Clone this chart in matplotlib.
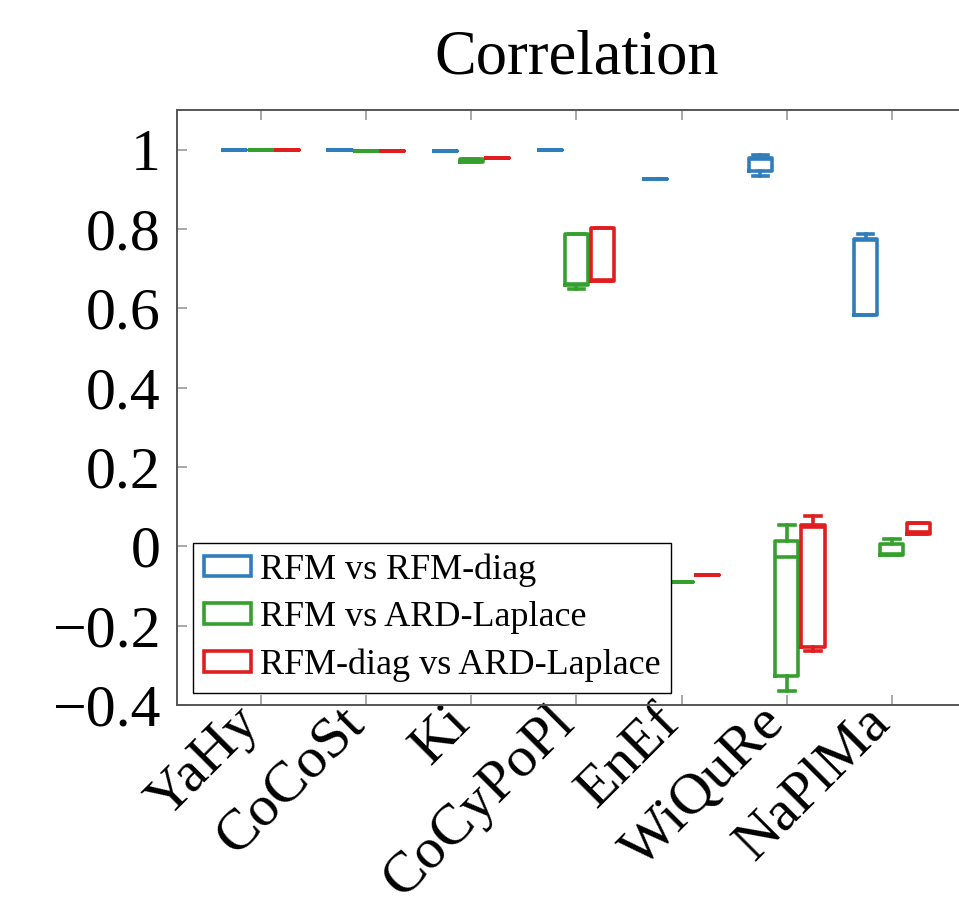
"""Correlation box plot: RFM vs RFM-diag vs ARD-Laplace per dataset."""

import matplotlib
matplotlib.use("Agg")
import matplotlib.pyplot as plt
from matplotlib.patches import Patch
from matplotlib.transforms import ScaledTranslation
import numpy as np

plt.rcParams["font.family"] = ["Liberation Serif", "DejaVu Serif"]

BLUE = "#2f7dbb"
GREEN = "#35a02e"
RED = "#e01d1f"

datasets = ["YaHy", "CoCoSt", "Ki", "CoCyPoPl", "EnEf", "WiQuRe", "NaPlMa"]
series_labels = ["RFM vs RFM-diag", "RFM vs ARD-Laplace", "RFM-diag vs ARD-Laplace"]

# five-number summaries, one list per dataset order above
blue_lo = [1.000, 1.000, 0.997, 0.999, 0.925, 0.934, 0.584]
blue_q1 = [1.000, 1.000, 0.997, 0.999, 0.925, 0.945, 0.584]
blue_med = [1.000, 1.000, 0.997, 0.999, 0.925, 0.976, 0.773]
blue_q3 = [1.000, 1.000, 0.997, 0.999, 0.925, 0.978, 0.775]
blue_hi = [1.000, 1.000, 0.997, 0.999, 0.925, 0.987, 0.788]

green_lo = [1.000, 0.997, 0.969, 0.649, -0.090, -0.364, -0.023]
green_q1 = [1.000, 0.997, 0.969, 0.660, -0.090, -0.327, -0.023]
green_med = [1.000, 0.997, 0.972, 0.662, -0.090, -0.028, -0.020]
green_q3 = [1.000, 0.997, 0.976, 0.788, -0.090, 0.014, 0.007]
green_hi = [1.000, 0.997, 0.976, 0.788, -0.090, 0.055, 0.019]

red_lo = [1.000, 0.997, 0.978, 0.670, -0.072, -0.264, 0.032]
red_q1 = [1.000, 0.997, 0.978, 0.670, -0.072, -0.254, 0.032]
red_med = [1.000, 0.997, 0.978, 0.672, -0.072, 0.050, 0.035]
red_q3 = [1.000, 0.997, 0.978, 0.803, -0.072, 0.055, 0.059]
red_hi = [1.000, 0.997, 0.978, 0.803, -0.072, 0.076, 0.059]

yticks = [-0.4, -0.2, 0, 0.2, 0.4, 0.6, 0.8, 1]
ytick_labels = ["\u22120.4", "\u22120.2", "0", "0.2", "0.4", "0.6", "0.8", "1"]


def make_stats(lo, q1, med, q3, hi):
    return [dict(whislo=a, q1=b, med=c, q3=d, whishi=e, fliers=[])
            for a, b, c, d, e in zip(lo, q1, med, q3, hi)]


series = [
    (make_stats(blue_lo, blue_q1, blue_med, blue_q3, blue_hi), BLUE, -0.25),
    (make_stats(green_lo, green_q1, green_med, green_q3, green_hi), GREEN, 0.0),
    (make_stats(red_lo, red_q1, red_med, red_q3, red_hi), RED, 0.25),
]

fig = plt.figure(figsize=(9.59, 9.09), dpi=100)
ax = fig.add_axes([0.1846, 0.2244, 0.833, 0.6546])

x = np.arange(1, len(datasets) + 1)
for stats, color, offset in series:
    props = dict(color=color, linewidth=2.6)
    ax.bxp(
        stats, positions=x + offset, widths=0.22, capwidths=0.15,
        boxprops=props, whiskerprops=props, capprops=props, medianprops=props,
        showfliers=False, manage_ticks=False,
    )

ax.set_xlim(0.2, 7.8)
ax.set_ylim(-0.4, 1.1)
ax.set_xticks(x)
ax.set_xticklabels(datasets, rotation=45, ha="right", va="center",
                   rotation_mode="anchor", fontsize=42)
ax.set_yticks(yticks)
ax.set_yticklabels(ytick_labels, fontsize=43)
ax.tick_params(axis="both", direction="in", length=7, width=1.2,
               color="#9a9a9a", top=True, right=True, pad=12)
ax.tick_params(axis="x", pad=7)
# nudge rotated labels a little left so they end just short of the tick
shift = ScaledTranslation(-0.1, 0.0, fig.dpi_scale_trans)
for label in ax.get_xticklabels():
    label.set_transform(label.get_transform() + shift)
for spine in ax.spines.values():
    spine.set_color("#555555")
    spine.set_linewidth(1.4)

ax.set_title("Correlation", fontsize=45, pad=26)

handles = [Patch(facecolor="white", edgecolor=c, linewidth=2.6) for c in (BLUE, GREEN, RED)]
ax.legend(handles, series_labels, loc="lower left", bbox_to_anchor=(0.02, 0.02),
          borderaxespad=0, fontsize=26, fancybox=False, framealpha=1,
          edgecolor="black", handlelength=1.3, handleheight=0.5,
          handletextpad=0.25, labelspacing=0.4, borderpad=0.3)
ax.get_legend().get_frame().set_linewidth(1.0)

plt.savefig("out.png", dpi=100)
plt.close()
